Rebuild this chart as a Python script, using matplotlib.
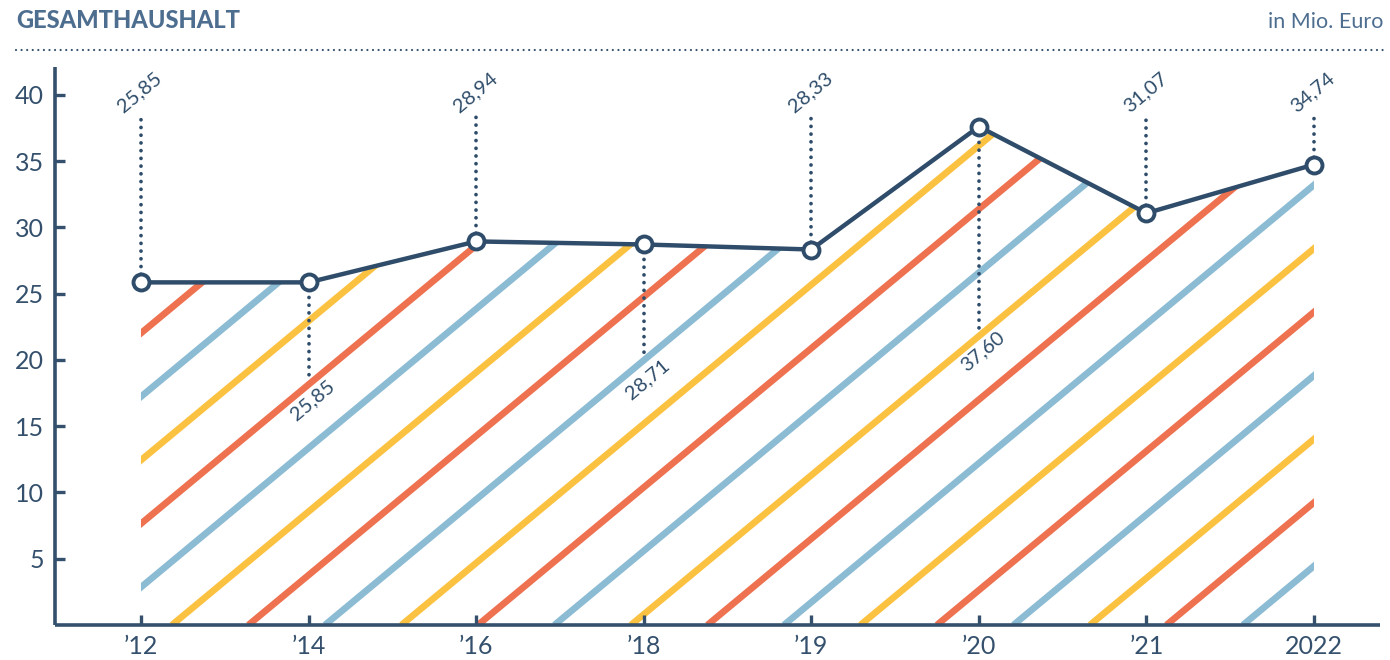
import numpy as np
import matplotlib
matplotlib.use("Agg")
import matplotlib.pyplot as plt
from matplotlib.lines import Line2D
from matplotlib.patches import Polygon

# --- data -------------------------------------------------------------
years = ["\u201912", "\u201914", "\u201916", "\u201918", "\u201919", "\u201920", "\u201921", "2022"]
values = [25.85, 25.85, 28.94, 28.71, 28.33, 37.60, 31.07, 34.74]
y_ticks = [5, 10, 15, 20, 25, 30, 35, 40]

# --- layout of the value labels (above / below the point) -------------
label_side = ["up", "down", "up", "down", "up", "down", "up", "up"]
label_end = [38.6, 18.6, 38.6, 20.2, 38.6, 22.3, 38.6, 38.6]

# --- style ------------------------------------------------------------
NAVY = "#2F4D6A"
AXIS = "#34506C"
TITLE = "#4E6E90"
STRIPES = ["#FBC241", "#EE7150", "#8CBBD4"]   # yellow, red, blue
FONT = "Lato"

plt.rcParams["font.family"] = [FONT, "DejaVu Sans"]

fig = plt.figure(figsize=(13.9, 6.6), dpi=100)
W, H = 1390, 660
ax = fig.add_axes([55 / W, 35 / H, 1325 / W, 558 / H])

x = np.arange(len(values))
ax.set_xlim(-0.513, len(values) - 1 + 0.394)
ax.set_ylim(0, 42.1)

# spines and ticks
for s in ("top", "right"):
    ax.spines[s].set_visible(False)
for s in ("left", "bottom"):
    ax.spines[s].set_color(AXIS)
    ax.spines[s].set_linewidth(2.6)
    ax.spines[s].set_capstyle("butt")
ax.set_xticks(x)
ax.set_xticklabels(years)
ax.set_yticks(y_ticks)
ax.set_yticklabels([str(t) for t in y_ticks])
ax.tick_params(axis="both", direction="in", length=7.5, width=2.4,
               color=AXIS, labelcolor=AXIS, labelsize=18)
ax.tick_params(axis="x", pad=7)
ax.tick_params(axis="y", pad=8)

# area under the line, used as clip region for the stripes
verts = [(x[0], 0)] + list(zip(x, values)) + [(x[-1], 0)]
area = Polygon(verts, closed=True, facecolor="none", edgecolor="none",
               transform=ax.transData)
ax.add_patch(area)

# diagonal stripes, built in pixel space so the angle is true on screen
fig.canvas.draw()
to_px = ax.transData
to_data = ax.transData.inverted()
x0_px, y0_px = to_px.transform((x[0], 0))
x1_px, y1_px = to_px.transform((x[-1], max(values)))
angle = np.deg2rad(39.7)
gap = 76.5          # horizontal distance between stripes, px
phase = 0.405       # first yellow stripe offset, in gaps
height = y1_px - y0_px + 40
run = height / np.tan(angle)
k_start = int(np.floor((-run) / gap)) - 2
k_end = int(np.ceil((x1_px - x0_px) / gap)) + 2
for k in range(k_start, k_end + 1):
    xb = x0_px + (phase + k) * gap
    p0 = to_data.transform((xb, y0_px))
    p1 = to_data.transform((xb + run, y0_px + height))
    ln, = ax.plot([p0[0], p1[0]], [p0[1], p1[1]], color=STRIPES[k % 3],
                  lw=4.8, solid_capstyle="butt", zorder=1)
    ln.set_clip_path(area)

# dotted connectors and value labels
for xi, v, side, end in zip(x, values, label_side, label_end):
    ax.plot([xi, xi], [v, end], color=NAVY, lw=2.7,
            linestyle=(0, (0.01, 2.05)), dash_capstyle="round", zorder=3)
    off = 21 if side == "up" else -22
    dx = -1 if side == "up" else 4
    txt = f"{v:.2f}".replace(".", ",")
    ax.annotate(txt, (xi, end), xytext=(dx * 0.72, off * 0.72),
                textcoords="offset points", ha="center", va="center",
                rotation=40, rotation_mode="anchor", fontsize=14.5,
                color=NAVY, zorder=5)

# the line with hollow markers
ax.plot(x, values, color=NAVY, lw=3.2, zorder=4, solid_joinstyle="round",
        marker="o", markersize=11.5, markerfacecolor="white",
        markeredgecolor=NAVY, markeredgewidth=2.8, clip_on=False)

# header
fig.text(16 / W, 1 - 28 / H, "GESAMTHAUSHALT", fontsize=17, fontweight="black",
         color=TITLE, ha="left", va="baseline")
fig.text(1383 / W, 1 - 28 / H, "in Mio. Euro", fontsize=15.5, color=TITLE,
         ha="right", va="baseline")
fig.add_artist(Line2D([16 / W, 1383 / W], [1 - 50 / H, 1 - 50 / H],
                      transform=fig.transFigure, color=AXIS, lw=1.6,
                      linestyle=(0, (0.01, 2.5)), dash_capstyle="round"))

fig.savefig("out.png", dpi=100)
